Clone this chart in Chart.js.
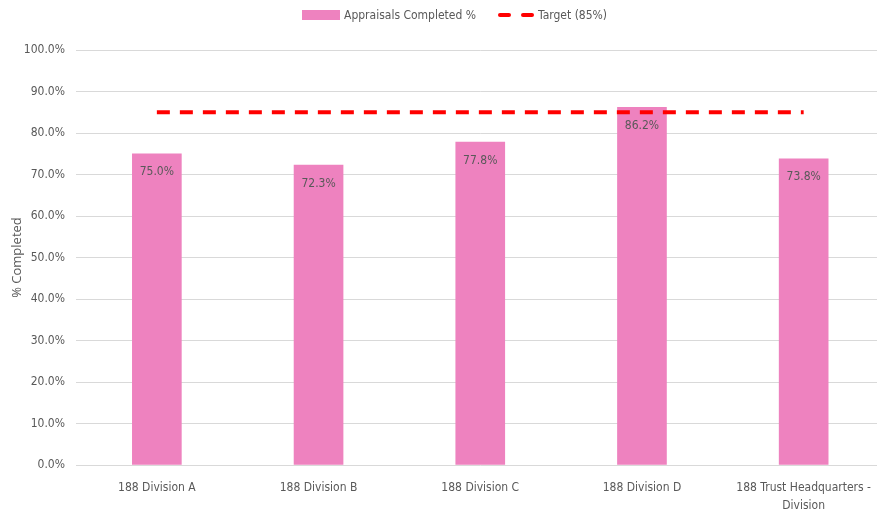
<!DOCTYPE html>
<html>
<head>
<meta charset="utf-8">
<script src="https://cdn.jsdelivr.net/npm/chart.js@4"></script>
<style>
    html, body { margin: 0; padding: 0; background: #fff; overflow: hidden; }
    #wrap { position: relative; width: 877px; height: 513px; overflow: hidden; }
    #box { position: absolute; left: 0; top: 0; width: 885px; height: 513px; }
    .legend {
        position: absolute; top: 6px; left: 302px; height: 18px;
        display: flex; align-items: center;
        font-family: "Liberation Sans Narrow", "DejaVu Sans Condensed", sans-serif;
        font-size: 12px; color: #595959; white-space: nowrap;
    }
    .swatch { width: 38px; height: 10px; background: #ee82bf; margin-right: 4px; }
    .dash { display: flex; gap: 10px; margin: 0 4px 0 22px; }
    .dash span { width: 13px; height: 4px; background: #ff0000; border-radius: 2px; }
</style>
</head>
<body>
<div id="wrap">
    <div id="box"><canvas id="appraisalChart"></canvas></div>
    <div class="legend">
        <div class="swatch"></div><span>Appraisals Completed %</span>
        <div class="dash"><span></span><span></span></div><span>Target (85%)</span>
    </div>
</div>
<script>
// Divisioni e percentuali di completamento
const divisions = [
    '188 Division A',
    '188 Division B',
    '188 Division C',
    '188 Division D',
    ['188 Trust Headquarters -', 'Division']
];
const completedPct = [75.0, 72.3, 77.8, 86.2, 73.8];
const targetPct = [85, 85, 85, 85, 85];
const yTicks = [0, 10, 20, 30, 40, 50, 60, 70, 80, 90, 100];

const FONT = '"Liberation Sans Narrow", "DejaVu Sans Condensed", sans-serif';
const TEXT_COLOR = '#595959';

// Etichette dei valori dentro la parte alta delle barre
const barValueLabels = {
    id: 'barValueLabels',
    afterDatasetsDraw(chart) {
        const meta = chart.getDatasetMeta(1);
        const ctx = chart.ctx;
        ctx.save();
        ctx.font = '12px ' + FONT;
        ctx.fillStyle = TEXT_COLOR;
        ctx.textAlign = 'center';
        ctx.textBaseline = 'middle';
        meta.data.forEach((bar, i) => {
            ctx.fillText(completedPct[i].toFixed(1) + '%', bar.x, bar.y + 18.5);
        });
        ctx.restore();
    }
};

const ctx = document.getElementById('appraisalChart').getContext('2d');
new Chart(ctx, {
    data: {
        labels: divisions,
        datasets: [
            {
                type: 'line',
                label: 'Target (85%)',
                data: targetPct,
                borderColor: '#ff0000',
                borderWidth: 4,
                borderDash: [13, 10],
                pointRadius: 0,
                fill: false,
                order: 0
            },
            {
                type: 'bar',
                label: 'Appraisals Completed %',
                data: completedPct,
                backgroundColor: '#ee82bf',
                barThickness: 49,
                order: 1
            }
        ]
    },
    options: {
        responsive: true,
        maintainAspectRatio: false,
        animation: false,
        layout: { padding: { top: 50, right: 0, left: 0, bottom: 0 } },
        plugins: {
            legend: { display: false },
            tooltip: { enabled: false }
        },
        scales: {
            x: {
                grid: { display: false, drawTicks: false },
                border: { display: false },
                ticks: {
                    font: { family: FONT, size: 12, lineHeight: 1.5 },
                    color: TEXT_COLOR,
                    padding: 14,
                    maxRotation: 0
                },
                afterFit(scale) { scale.height = 48; }
            },
            y: {
                min: 0,
                max: 100,
                afterBuildTicks(scale) { scale.ticks = yTicks.map(v => ({ value: v })); },
                grid: { color: '#d9d9d9', lineWidth: 1, drawTicks: false },
                border: { display: false },
                ticks: {
                    font: { family: FONT, size: 12 },
                    color: TEXT_COLOR,
                    padding: 11,
                    callback: v => v.toFixed(1) + '%'
                },
                title: {
                    display: true,
                    text: '% Completed',
                    font: { family: '"Open Sans", sans-serif', size: 13 },
                    color: TEXT_COLOR,
                    padding: { top: 9, bottom: 0 }
                },
                afterFit(scale) { scale.width = 76; }
            }
        }
    },
    plugins: [barValueLabels]
});
</script>
</body>
</html>
